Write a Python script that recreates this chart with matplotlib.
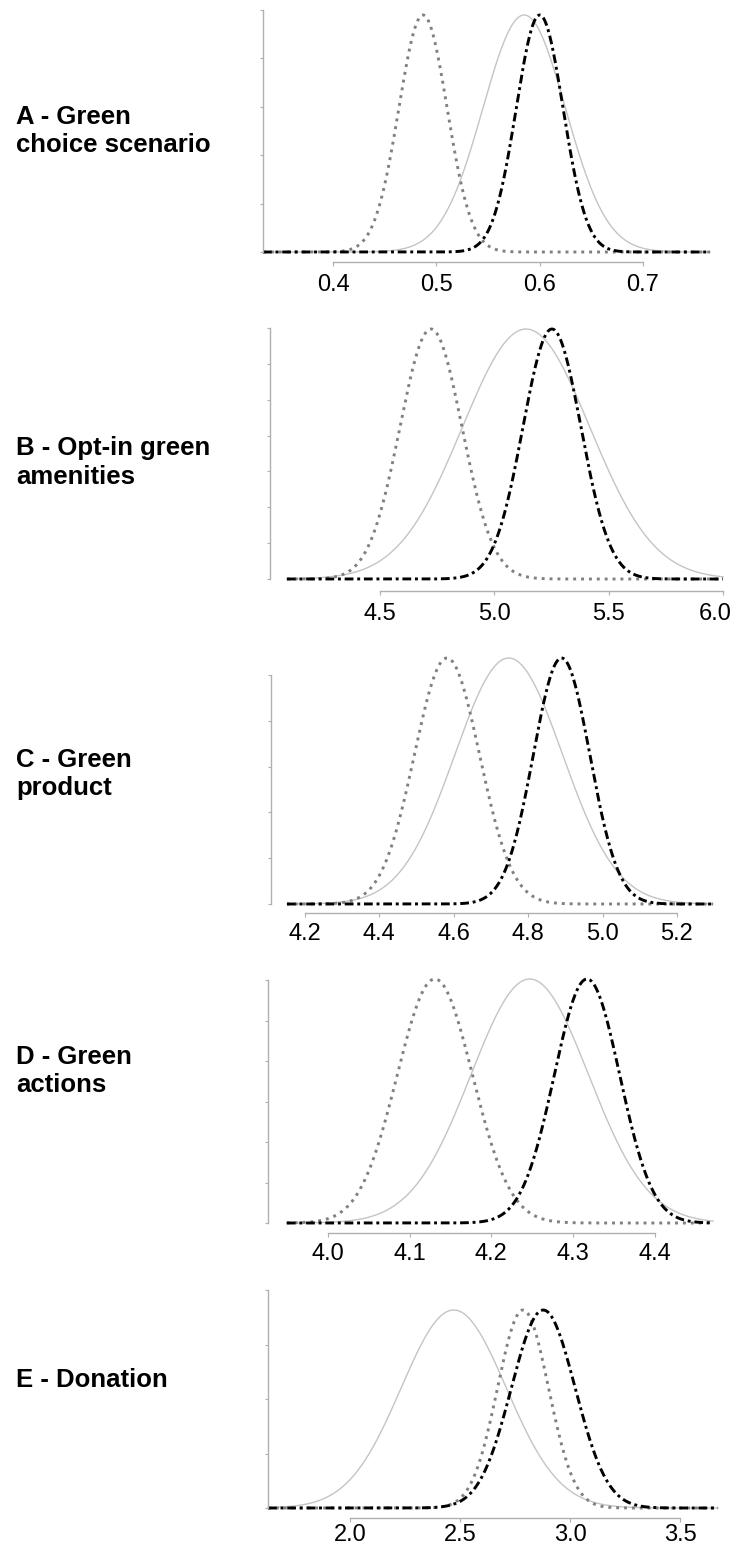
import numpy as np
import matplotlib.pyplot as plt
import matplotlib.transforms as mtransforms

plt.rcParams['font.family'] = ['Liberation Sans', 'DejaVu Sans']

W, H = 737, 1546

# panel labels
labels = ["A - Green\nchoice scenario",
          "B - Opt-in green\namenities",
          "C - Green\nproduct",
          "D - Green\nactions",
          "E - Donation"]

# x tick values for each panel
xticks_A = [0.4, 0.5, 0.6, 0.7]
xticks_B = [4.5, 5.0, 5.5, 6.0]
xticks_C = [4.2, 4.4, 4.6, 4.8, 5.0, 5.2]
xticks_D = [4.0, 4.1, 4.2, 4.3, 4.4]
xticks_E = [2.0, 2.5, 3.0, 3.5]
xticks_all = [xticks_A, xticks_B, xticks_C, xticks_D, xticks_E]

# estimated means / sds of the three distributions (dotted, solid, dash-dot)
mean_dotted = [0.487, 4.723, 4.582, 4.131, 2.785]
sd_dotted = [0.0234, 0.136, 0.0876, 0.046, 0.116]
mean_solid = [0.585, 5.139, 4.748, 4.247, 2.470]
sd_solid = [0.040, 0.279, 0.145, 0.072, 0.239]
mean_dashdot = [0.600, 5.252, 4.890, 4.317, 2.877]
sd_dashdot = [0.0227, 0.127, 0.076, 0.040, 0.145]

# x range of the curves and of the axes
curve_lo = [0.332, 4.093, 4.152, 3.950, 1.626]
curve_hi = [0.765, 6.000, 5.297, 4.471, 3.671]
axis_lo = [0.332, 4.019, 4.109, 3.927, 1.626]

# number of y ticks on the bare left axis
n_yticks = [6, 8, 6, 7, 5]

# layout in pixels: y-spine x, baseline y, peak y, spine top y, x-axis offset
spine_x = [263, 270, 271, 268, 268]
base_y = [252, 579, 904, 1223, 1508]
peak_y = [15, 329, 658, 979, 1310]
top_y = [10, 328, 675, 980, 1290]
right_x = [710, 723, 713, 713, 718]
xoff = [10, 12, 9, 10, 10]
xpad = [5.4, 5.4, 4.0, 4.0, 1.1]
label_y = [124, 455, 767, 1064, 1387]

fig = plt.figure(figsize=(W / 100, H / 100), dpi=100)

for i in range(5):
    b, p, s = base_y[i], peak_y[i], top_y[i]
    top_px = min(p, s)
    ax = fig.add_axes([spine_x[i] / W, (H - b) / H,
                       (right_x[i] - spine_x[i]) / W, (b - top_px) / H])
    ymax = (b - top_px) / (b - p)
    ax.set_ylim(0, ymax)
    ax.set_xlim(axis_lo[i], curve_hi[i])

    x = np.linspace(curve_lo[i], curve_hi[i], 600)
    y_solid = np.exp(-0.5 * ((x - mean_solid[i]) / sd_solid[i]) ** 2)
    y_dot = np.exp(-0.5 * ((x - mean_dotted[i]) / sd_dotted[i]) ** 2)
    y_dd = np.exp(-0.5 * ((x - mean_dashdot[i]) / sd_dashdot[i]) ** 2)

    ax.plot(x, y_solid, color='#c4c4c4', lw=1.0, clip_on=False)
    ax.plot(x, y_dot, color='#808080', lw=2.1, dashes=(1, 1.7), clip_on=False)
    ax.plot(x, y_dd, color='black', lw=2.1, dashes=(3.0, 1.3, 1, 1.3), clip_on=False)

    for side in ['top', 'right']:
        ax.spines[side].set_visible(False)
    ax.spines['left'].set_color('#b0b0b0')
    ax.spines['bottom'].set_color('#b0b0b0')
    ax.spines['left'].set_linewidth(1.0)
    ax.spines['bottom'].set_linewidth(1.0)

    ytop = (b - s) / (b - p)
    ax.set_yticks(np.linspace(0, ytop, n_yticks[i]))
    ax.spines['left'].set_bounds(0, ytop)
    ax.tick_params(axis='y', length=2.5, color='#b0b0b0', labelleft=False)

    xt = xticks_all[i]
    ax.spines['bottom'].set_position(('outward', xoff[i] * 0.72))
    ax.spines['bottom'].set_bounds(xt[0], xt[-1])
    ax.set_xticks(xt)
    ax.set_xticklabels(["%.1f" % v for v in xt])
    ax.tick_params(axis='x', length=3, color='#b0b0b0', labelsize=17,
                   labelcolor='black', pad=xpad[i])
    ax.patch.set_alpha(0)

    # keep the last label of panel B inside the figure, as in the original
    if i == 1:
        lab = ax.get_xticklabels()[-1]
        shift = mtransforms.ScaledTranslation(-8 / 100, 0, fig.dpi_scale_trans)
        lab.set_transform(lab.get_transform() + shift)

    for j, line in enumerate(labels[i].split("\n")):
        fig.text(16 / W, 1 - (label_y[i] + j * 28.5) / H, line,
                 fontsize=18.5, fontweight='bold', va='baseline', ha='left')

fig.savefig("out.png", dpi=100)
